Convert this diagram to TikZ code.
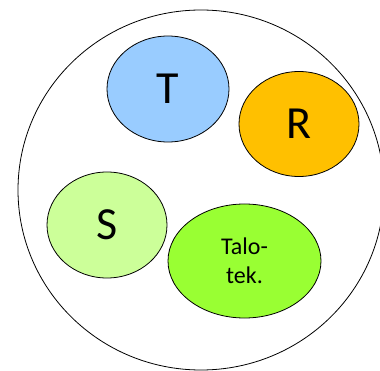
\documentclass[tikz,border=0pt]{standalone}
\usepackage{fontspec}
\setmainfont{Carlito}
\usepackage{xcolor}
\usetikzlibrary{shapes,positioning}

\definecolor{tblue}{HTML}{99CCFF}
\definecolor{rorange}{HTML}{FFC000}
\definecolor{sgreen}{HTML}{CCFF99}
\definecolor{tgreen}{HTML}{99FF33}

\begin{document}
\begin{tikzpicture}[
    x=1pt, y=-1pt,
    blob/.style={ellipse, draw, line width=0.8pt, inner sep=0pt, font=\fontsize{46}{50}\selectfont},
    outer/.style={ellipse, draw, line width=0.8pt, minimum width=366pt, minimum height=360pt}
]
\clip (0,0) rectangle (380,371);

% Outer region
\node[outer] (all) at (201,190) {};

% Groups
\node[blob, fill=tblue, minimum width=122pt, minimum height=106pt] (T) at (168,89) {T};
\node[blob, fill=rorange, minimum width=120pt, minimum height=105pt] (R) at (299,124) {R};
\node[blob, fill=sgreen, minimum width=120pt, minimum height=106pt] (S) at (107,225) {S};
\node[blob, fill=tgreen, minimum width=153pt, minimum height=114pt, align=center,
      font=\fontsize{24}{29}\selectfont] (talo) at (244.5,261) {Talo-\\tek.};

\end{tikzpicture}
\end{document}
